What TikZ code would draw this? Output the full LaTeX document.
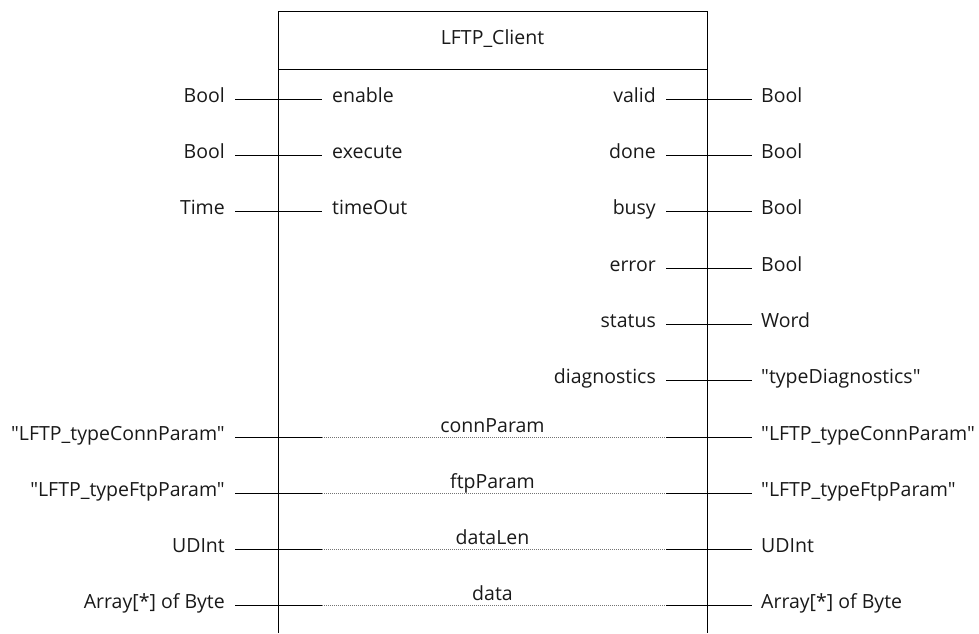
\documentclass[tikz,border=0pt]{standalone}
\usepackage{fontspec}
\setmainfont{Open Sans}[Ligatures=TeXOff]
\begin{document}
\begin{tikzpicture}[x=1pt,y=-1pt,
  lbl/.style={font=\fontsize{19.5}{22}\selectfont, text=black!90, inner xsep=0pt, inner ysep=0pt,
              text height=0.714em, text depth=0pt},
  typeL/.style={lbl, anchor=east, inner xsep=10pt},
  pinL/.style={lbl, anchor=west, inner xsep=10pt},
  pinR/.style={lbl, anchor=east, inner xsep=10pt},
  typeR/.style={lbl, anchor=west, inner xsep=9pt},
  ioname/.style={lbl, anchor=base},
  wire/.style={draw=black, line width=1pt},
  dotwire/.style={draw=black!55, line width=0.8pt, dash pattern=on 1pt off 1pt},
  frame/.style={draw=black, line width=1pt}]
\useasboundingbox (0,0) rectangle (979,633);

% block frame, open at the bottom
\draw[frame] (278,633) -- (278,11) -- (707,11) -- (707,633);
\draw[frame] (278,69) -- (707,69);
\node[lbl] (title) at (492.5,41) {LFTP\_Client};

% inputs
\node[typeL] (tEnable) at (235,99) {Bool};
\node[pinL] (pEnable) at (322,99) {enable};
\draw[wire] (tEnable.east) -- (pEnable.west);

\node[typeL] (tExecute) at (235,155) {Bool};
\node[pinL] (pExecute) at (322,155) {execute};
\draw[wire] (tExecute.east) -- (pExecute.west);

\node[typeL] (tTimeOut) at (235,211) {Time};
\node[pinL] (pTimeOut) at (322,211) {timeOut};
\draw[wire] (tTimeOut.east) -- (pTimeOut.west);

% outputs
\node[pinR] (pValid) at (666,99) {valid};
\node[typeR] (tValid) at (752,99) {Bool};
\draw[wire] (pValid.east) -- (tValid.west);

\node[pinR] (pDone) at (666,155) {done};
\node[typeR] (tDone) at (752,155) {Bool};
\draw[wire] (pDone.east) -- (tDone.west);

\node[pinR] (pBusy) at (666,211) {busy};
\node[typeR] (tBusy) at (752,211) {Bool};
\draw[wire] (pBusy.east) -- (tBusy.west);

\node[pinR] (pError) at (666,268) {error};
\node[typeR] (tError) at (752,268) {Bool};
\draw[wire] (pError.east) -- (tError.west);

\node[pinR] (pStatus) at (666,324) {status};
\node[typeR] (tStatus) at (752,324) {Word};
\draw[wire] (pStatus.east) -- (tStatus.west);

\node[pinR] (pDiag) at (666,380) {diagnostics};
\node[typeR] (tDiag) at (752,380) {"typeDiagnostics"};
\draw[wire] (pDiag.east) -- (tDiag.west);

% in/out parameters
\node[typeL] (tConnIn) at (235,437) {"LFTP\_typeConnParam"};
\node[typeR] (tConnOut) at (752,437) {"LFTP\_typeConnParam"};
\coordinate (connA) at (322,437);
\coordinate (connB) at (666,437);
\draw[wire] (tConnIn.east) -- (connA);
\draw[dotwire] (connA) -- (connB);
\draw[wire] (connB) -- (tConnOut.west);
\node[ioname] (pConn) at (492.5,432) {connParam};

\node[typeL] (tFtpIn) at (235,493) {"LFTP\_typeFtpParam"};
\node[typeR] (tFtpOut) at (752,493) {"LFTP\_typeFtpParam"};
\coordinate (ftpA) at (322,493);
\coordinate (ftpB) at (666,493);
\draw[wire] (tFtpIn.east) -- (ftpA);
\draw[dotwire] (ftpA) -- (ftpB);
\draw[wire] (ftpB) -- (tFtpOut.west);
\node[ioname] (pFtp) at (492.5,488) {ftpParam};

\node[typeL] (tLenIn) at (235,549) {UDInt};
\node[typeR] (tLenOut) at (752,549) {UDInt};
\coordinate (lenA) at (322,549);
\coordinate (lenB) at (666,549);
\draw[wire] (tLenIn.east) -- (lenA);
\draw[dotwire] (lenA) -- (lenB);
\draw[wire] (lenB) -- (tLenOut.west);
\node[ioname] (pLen) at (492.5,544) {dataLen};

\node[typeL] (tDataIn) at (235,605) {Array[*] of Byte};
\node[typeR] (tDataOut) at (752,605) {Array[*] of Byte};
\coordinate (dataA) at (322,605);
\coordinate (dataB) at (666,605);
\draw[wire] (tDataIn.east) -- (dataA);
\draw[dotwire] (dataA) -- (dataB);
\draw[wire] (dataB) -- (tDataOut.west);
\node[ioname] (pData) at (492.5,600) {data};
\end{tikzpicture}
\end{document}
